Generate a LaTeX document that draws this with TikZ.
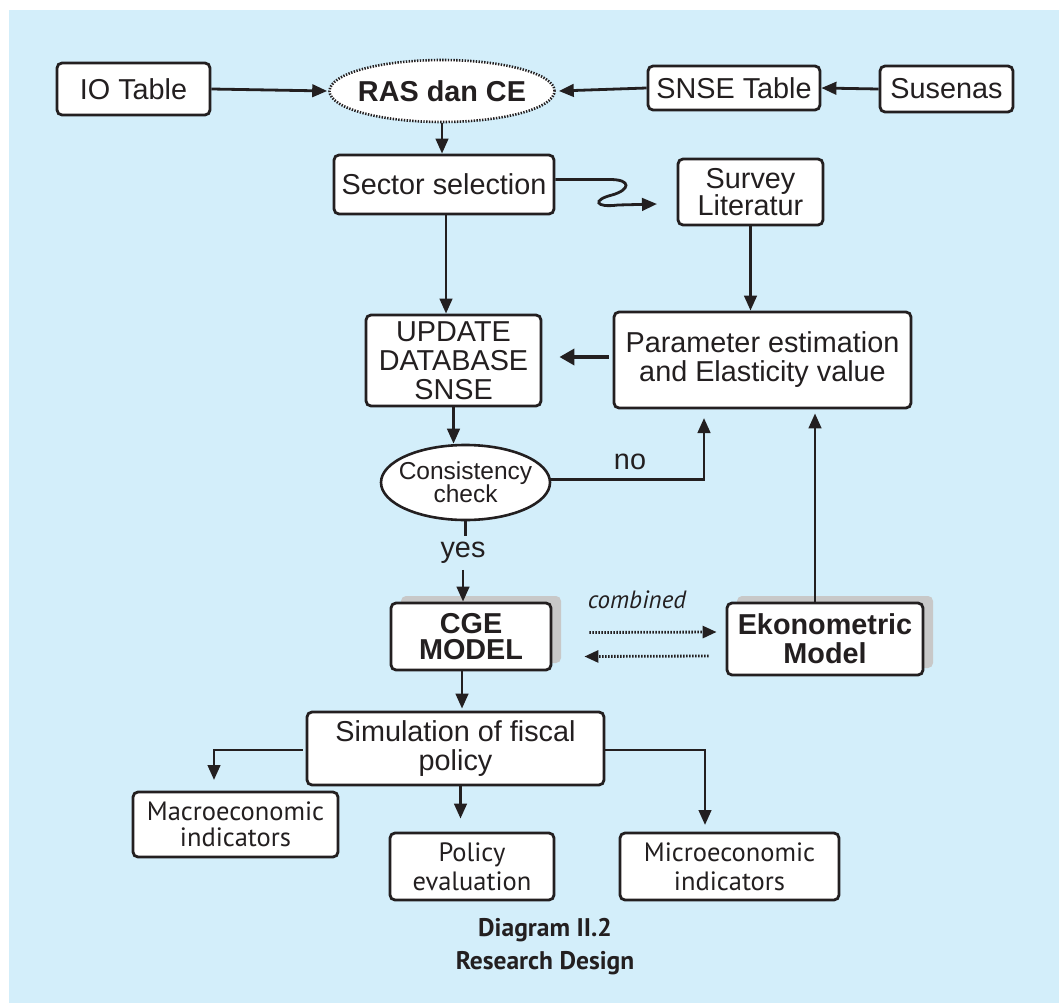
\documentclass[tikz,border=0pt]{standalone}
\usepackage{fontspec}
\setmainfont{Liberation Sans}
\newfontfamily\myr{PT Sans}
\usetikzlibrary{arrows.meta,shapes.geometric,shadows}
\definecolor{bgblue}{RGB}{211,238,250}
\definecolor{shgray}{RGB}{200,200,200}
\definecolor{ink}{RGB}{35,31,32}
\newcommand\bigf{\fontsize{28.8}{29}\selectfont}
\newcommand\midf{\fontsize{24.5}{23}\selectfont}
\newcommand\myrf{\myr\fontsize{26.5}{26}\selectfont}
\newcommand\capf{\myr\bfseries\fontsize{25.5}{26}\selectfont}
\begin{document}
\begin{tikzpicture}[x=1pt,y=-1pt,
  every node/.style={text=ink},
  box/.style={draw=ink, line width=2.8pt, rounded corners=5pt, fill=white, align=center, inner sep=0pt, font=\bigf},
  lbox/.style={box, font=\myrf},
  shbox/.style={box, font=\bigf\bfseries, drop shadow={shadow xshift=10pt, shadow yshift=7pt, fill=shgray, opacity=1}},
  arr/.style={draw=ink, line width=2.8pt, -{Triangle[length=15pt,width=12.5pt]}},
  dotarr/.style={draw=ink, line width=2.8pt, dash pattern=on 1.5pt off 1.5pt, -{Triangle[length=14pt,width=12pt]}},
  ln/.style={draw=ink, line width=2.8pt}
]
\useasboundingbox (0,0) rectangle (1059,1003);
\fill[bgblue] (9,10) rectangle (1059,1003);

% top row
\node[box, minimum width=153pt, minimum height=52pt] (io) at (133.5,89) {IO Table};
\node[ellipse, draw=ink, line width=2.6pt, dash pattern=on 1.4pt off 1.4pt, fill=white, minimum width=225pt, minimum height=62pt, inner sep=0pt] (ras) at (442,91) {};
\node[font=\bigf\bfseries, inner sep=0pt] (rastxt) at (ras) {RAS dan CE};
\node[box, minimum width=172pt, minimum height=44pt] (snse) at (734,88) {SNSE Table};
\node[box, minimum width=133pt, minimum height=46pt] (sus) at (946.5,89) {Susenas};

\node[box, minimum width=220pt, minimum height=59pt] (sec) at (444,184.5) {Sector selection};
\node[box, minimum width=145pt, minimum height=66pt] (surv) at (750.5,192) {Survey\\[-2pt]Literatur};

\node[box, minimum width=175pt, minimum height=91pt] (upd) at (453.5,360.5) {UPDATE\\DATABASE\\SNSE};
\node[box, minimum width=297pt, minimum height=96pt] (par) at (762.5,360) {Parameter estimation\\and Elasticity value};

\node[ellipse, draw=ink, line width=2.6pt, fill=white, minimum width=169pt, minimum height=75pt, inner sep=0pt] (cons) at (465.5,482.5) {};
\node[font=\midf, align=center, inner sep=0pt] (constxt) at (cons) {Consistency\\check};

\node[shbox, minimum width=160pt, minimum height=67pt] (cge) at (471,636.5) {CGE\\[-3pt]MODEL};
\node[shbox, minimum width=196pt, minimum height=72pt] (eko) at (825,639) {Ekonometric\\Model};

\node[box, minimum width=297pt, minimum height=73pt] (sim) at (455.5,748.5) {Simulation of fiscal\\policy};
\node[lbox, minimum width=205pt, minimum height=65pt] (mac) at (235.5,824.5) {Macroeconomic\\indicators};
\node[lbox, minimum width=164pt, minimum height=67pt] (pol) at (472,866.5) {Policy\\[3pt]evaluation};
\node[lbox, minimum width=219pt, minimum height=67pt] (mic) at (729.5,866.5) {Microeconomic\\[3pt]indicators};

\node[font=\capf, inner sep=0pt] (cap1) at (545,930) {Diagram II.2};
\node[font=\capf, inner sep=0pt] (cap2) at (545,963) {Research Design};

% labels
\node[font=\bigf, inner sep=0pt] (no) at (630,462) {no};
\node[font=\bigf, inner sep=0pt, inner ysep=6pt] (yes) at (463,553) {yes};
\node[font=\myr\itshape\fontsize{25}{26}\selectfont, inner sep=0pt] (comb) at (637,600) {combined};

% coordinates for free ends
\coordinate (sq) at (657,204);
\coordinate (noend) at (704,418);
\coordinate (macend) at (214,780);
\coordinate (micend) at (705,825);

% connectors
\draw[arr] (io.east) -- ([xshift=-1pt]ras.west);
\draw[arr] (snse.west) -- ([xshift=3pt]ras.east);
\draw[arr] (sus.west) -- (snse.east);
\draw[arr] (ras.south) -- (ras.south |- sec.north);
\draw[arr] ([yshift=5pt]sec.east) -- (610,179.5)
   .. controls (632,179.5) and (630,190) .. (612,195)
   .. controls (592,200) and (595,208) .. (618,205) -- (sq);
\draw[arr] ([xshift=2pt]sec.south) -- ([xshift=2pt]sec.south |- upd.north);
\draw[arr] (surv.south) -- (surv.south |- par.north);
\draw[draw=ink, line width=3.6pt, -{Triangle[length=15pt,width=16pt]}, shorten <=4pt, shorten >=17pt] ([yshift=3pt]par.west) -- ([yshift=3pt]par.west -| upd.east);
\draw[arr] (upd.south) -- (upd.south |- cons.north);
\draw[arr] ([yshift=3pt]cons.east) -| (noend);
\draw[arr] ([xshift=-10pt]eko.north) -- ([xshift=-10pt, yshift=-4pt]eko.north |- par.south);
\draw[ln] (cons.south) -- (yes.north -| cons.south);
\draw[arr] (yes.south) -- (yes.south |- cge.north);
\draw[dotarr] ([shift={(37,-4)}]cge.east) -- ([shift={(-9,-7)}]eko.west);
\draw[dotarr] ([shift={(-17,17)}]eko.west) -- ([shift={(32,20)}]cge.east);
\draw[arr] ([xshift=-9pt]cge.south) -- ([xshift=-9pt, yshift=2pt]cge.south |- sim.north);
\draw[arr] ([xshift=-3pt,yshift=-1.5pt]sim.west) -| (macend);
\draw[arr] ([xshift=5pt]sim.south) -- ([xshift=5pt,yshift=13pt]sim.south |- pol.north);
\draw[arr] ([yshift=-1.5pt]sim.east) -| (micend);
\end{tikzpicture}
\end{document}
